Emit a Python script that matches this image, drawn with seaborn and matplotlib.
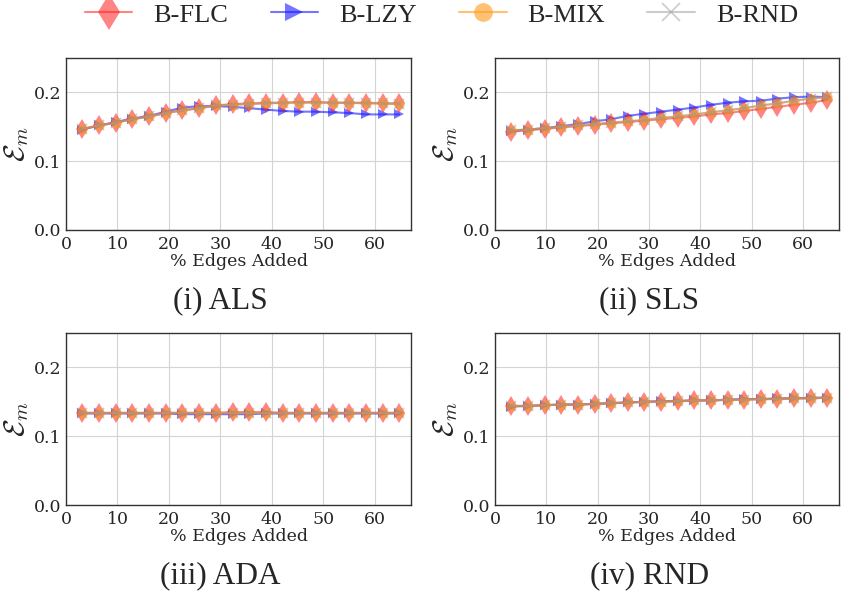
import matplotlib
matplotlib.use("Agg")
import matplotlib.pyplot as plt
import seaborn as sns
import pandas as pd

# ---- data ----
edges_added = [3.2, 6.5, 9.7, 12.9, 16.2, 19.4, 22.6, 25.9, 29.1, 32.4,
               35.6, 38.8, 42.1, 45.3, 48.5, 51.8, 55.0, 58.3, 61.5, 64.7]
series = ["B-FLC", "B-LZY", "B-MIX", "B-RND"]
panel_titles = ["(i) ALS", "(ii) SLS", "(iii) ADA", "(iv) RND"]

als_flc = [0.147, 0.152, 0.156, 0.161, 0.165, 0.170, 0.174, 0.177, 0.181, 0.183,
           0.184, 0.185, 0.185, 0.186, 0.186, 0.185, 0.185, 0.185, 0.184, 0.184]
als_lzy = [0.146, 0.152, 0.157, 0.162, 0.166, 0.172, 0.178, 0.180, 0.180, 0.179,
           0.177, 0.175, 0.173, 0.172, 0.172, 0.171, 0.170, 0.168, 0.168, 0.168]
als_mix = [0.147, 0.152, 0.156, 0.161, 0.165, 0.170, 0.174, 0.177, 0.181, 0.182,
           0.183, 0.184, 0.185, 0.185, 0.185, 0.185, 0.185, 0.184, 0.184, 0.183]
als_rnd = [0.147, 0.152, 0.156, 0.161, 0.165, 0.170, 0.174, 0.177, 0.181, 0.182,
           0.183, 0.184, 0.185, 0.185, 0.185, 0.185, 0.185, 0.184, 0.184, 0.183]

sls_flc = [0.143, 0.145, 0.147, 0.149, 0.151, 0.153, 0.155, 0.157, 0.159, 0.161,
           0.163, 0.165, 0.168, 0.170, 0.173, 0.176, 0.179, 0.182, 0.185, 0.189]
sls_lzy = [0.144, 0.146, 0.148, 0.151, 0.154, 0.158, 0.161, 0.166, 0.169, 0.172,
           0.175, 0.178, 0.182, 0.185, 0.187, 0.188, 0.191, 0.193, 0.194, 0.193]
sls_mix = [0.145, 0.146, 0.148, 0.150, 0.152, 0.154, 0.156, 0.158, 0.160, 0.163,
           0.165, 0.168, 0.171, 0.174, 0.177, 0.181, 0.184, 0.188, 0.191, 0.193]
sls_rnd = [0.145, 0.146, 0.148, 0.150, 0.152, 0.154, 0.156, 0.158, 0.160, 0.163,
           0.165, 0.168, 0.171, 0.174, 0.177, 0.181, 0.184, 0.188, 0.191, 0.193]

ada_flc = [0.134, 0.134, 0.134, 0.134, 0.134, 0.134, 0.134, 0.134, 0.134, 0.135,
           0.135, 0.135, 0.134, 0.134, 0.134, 0.134, 0.134, 0.134, 0.134, 0.134]
ada_lzy = [0.133, 0.133, 0.133, 0.133, 0.133, 0.133, 0.132, 0.132, 0.132, 0.132,
           0.132, 0.133, 0.133, 0.133, 0.133, 0.133, 0.133, 0.133, 0.133, 0.133]
ada_mix = [0.133, 0.133, 0.133, 0.133, 0.133, 0.133, 0.133, 0.133, 0.133, 0.133,
           0.133, 0.133, 0.133, 0.133, 0.133, 0.133, 0.133, 0.133, 0.133, 0.133]
ada_rnd = [0.133, 0.133, 0.133, 0.133, 0.133, 0.133, 0.133, 0.133, 0.133, 0.133,
           0.133, 0.133, 0.133, 0.133, 0.133, 0.133, 0.133, 0.133, 0.133, 0.133]

rnd_flc = [0.144, 0.144, 0.145, 0.146, 0.146, 0.147, 0.148, 0.149, 0.150, 0.150,
           0.151, 0.152, 0.152, 0.153, 0.153, 0.154, 0.154, 0.155, 0.155, 0.156]
rnd_lzy = [0.143, 0.144, 0.145, 0.146, 0.146, 0.147, 0.148, 0.149, 0.150, 0.151,
           0.151, 0.152, 0.152, 0.153, 0.154, 0.154, 0.155, 0.155, 0.156, 0.156]
rnd_mix = [0.144, 0.144, 0.145, 0.146, 0.146, 0.147, 0.148, 0.149, 0.150, 0.150,
           0.151, 0.152, 0.152, 0.153, 0.153, 0.154, 0.154, 0.155, 0.155, 0.156]
rnd_rnd = [0.144, 0.144, 0.145, 0.146, 0.146, 0.147, 0.148, 0.149, 0.150, 0.150,
           0.151, 0.152, 0.152, 0.153, 0.153, 0.154, 0.154, 0.155, 0.155, 0.156]

panels = [
    [als_flc, als_lzy, als_mix, als_rnd],
    [sls_flc, sls_lzy, sls_mix, sls_rnd],
    [ada_flc, ada_lzy, ada_mix, ada_rnd],
    [rnd_flc, rnd_lzy, rnd_mix, rnd_rnd],
]

# ---- style ----
sns.set_style("whitegrid", {"grid.color": "#d4d4d4", "axes.edgecolor": "#333333"})
plt.rcParams["font.family"] = ["DejaVu Serif"]
plt.rcParams["mathtext.fontset"] = "cm"

styles = {
    "B-FLC": dict(color="#ff2020", marker="d", markersize=10, alpha=0.55, zorder=3),
    "B-LZY": dict(color="#1a1aff", marker=">", markersize=7.5, alpha=0.6, zorder=2),
    "B-MIX": dict(color="#ff9a1a", marker="o", markersize=7.5, alpha=0.6, zorder=4),
    "B-RND": dict(color="#9a9a9a", marker="x", markersize=7, alpha=0.5, zorder=5),
}

fig = plt.figure(figsize=(8.41, 5.99), dpi=100)
W, H = 841, 599
boxes = [(66, 58, 411, 230), (495, 58, 839, 230),
         (66, 333, 411, 505), (495, 333, 839, 505)]

for i, (box, vals) in enumerate(zip(boxes, panels)):
    x0, y0, x1, y1 = box
    ax = fig.add_axes([x0 / W, 1 - y1 / H, (x1 - x0) / W, (y1 - y0) / H])
    for name, v in zip(series, vals):
        st = styles[name]
        df = pd.DataFrame({"x": edges_added, "y": v})
        sns.lineplot(data=df, x="x", y="y", ax=ax, color=st["color"],
                     marker=st["marker"], markersize=st["markersize"],
                     alpha=st["alpha"], linewidth=1.5, label=name,
                     markeredgewidth=1.2 if name == "B-RND" else 0,
                     markeredgecolor=st["color"], zorder=st["zorder"],
                     legend=False)
    ax.set_xlim(0, 67)
    ax.set_ylim(0, 0.25)
    ax.set_xticks([0, 10, 20, 30, 40, 50, 60])
    ax.set_yticks([0.0, 0.1, 0.2])
    ax.tick_params(axis="x", labelsize=12.5, pad=4, length=0)
    ax.tick_params(axis="y", labelsize=12.5, pad=3, length=0)
    ax.set_xlabel("% Edges Added", fontsize=12.5, labelpad=0)
    ax.set_ylabel(r"$\mathcal{E}_m$", fontsize=21, labelpad=2)
    for s in ax.spines.values():
        s.set_color("#333333")
        s.set_linewidth(1.0)
    ax.text(0.448, -0.41, panel_titles[i], transform=ax.transAxes,
            ha="center", va="center", fontsize=22.5, family="Liberation Serif")
    if i == 0:
        handles, labels = ax.get_legend_handles_labels()

fig.legend(handles, labels, loc="center", bbox_to_anchor=(0.525, 0.975),
           ncol=4, frameon=False, prop={"family": "Liberation Serif", "size": 19},
           handlelength=1.8, columnspacing=1.6, handletextpad=0.8,
           markerscale=1.8)

fig.savefig("out.png", dpi=100)
